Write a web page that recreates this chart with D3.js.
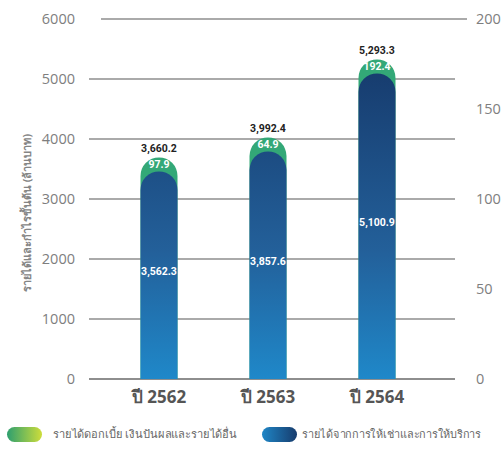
<!DOCTYPE html>
<html><head><meta charset="utf-8">
<script src="https://cdn.jsdelivr.net/npm/d3@7"></script>
<style>
body{margin:0;background:#fff;}
svg{display:block;}
.tick-l{font-family:"Open Sans","Noto Sans",sans-serif;font-weight:400;fill:#7e7e7e;font-size:14.5px;}
.lbl{font-family:"Liberation Sans Narrow","Roboto",sans-serif;font-weight:bold;}
</style>
</head><body>
<svg id="c" width="503" height="449"></svg>
<script>
const years = ["ปี 2562", "ปี 2563", "ปี 2564"];
const rentalService = [3562.3, 3857.6, 5100.9];
const interestOther = [97.9, 64.9, 192.4];
const totals = [3660.2, 3992.4, 5293.3];
const leftTicks = [0, 1000, 2000, 3000, 4000, 5000, 6000];
const rightTicks = [0, 50, 100, 150, 200];
const yTitle = "รายได้และกำไรขั้นต้น (ล้านบาท)";
const legendLabels = ["รายได้ดอกเบี้ย เงินปันผลและรายได้อื่น", "รายได้จากการให้เช่าและการให้บริการ"];

const svg = d3.select("#c");
const y = d3.scaleLinear().domain([0, 6000]).range([379, 19]);
const yR = d3.scaleLinear().domain([0, 200]).range([379, 19]);
const x = d3.scalePoint().domain(years).range([159, 377]);
const bw = 37, r = bw / 2, capH = 14;

const defs = svg.append("defs");
const gb = defs.append("linearGradient").attr("id", "gblue").attr("x1", 0).attr("x2", 0).attr("gradientUnits", "userSpaceOnUse")
  .attr("y1", 60).attr("y2", 379);
gb.append("stop").attr("offset", 0).attr("stop-color", "#163a6c");
gb.append("stop").attr("offset", 0.6).attr("stop-color", "#23609a");
gb.append("stop").attr("offset", 1).attr("stop-color", "#1f88c9");
const lg = defs.append("linearGradient").attr("id", "lgreen");
lg.append("stop").attr("offset", 0).attr("stop-color", "#2e9f6f");
lg.append("stop").attr("offset", 1).attr("stop-color", "#cddd3b");
const lb = defs.append("linearGradient").attr("id", "lblue");
lb.append("stop").attr("offset", 0).attr("stop-color", "#1f86c6");
lb.append("stop").attr("offset", 1).attr("stop-color", "#173c6d");

// gridlines
svg.append("g").selectAll("line").data(leftTicks).join("line")
  .attr("x1", d => d === 6000 ? 101 : 89)
  .attr("x2", d => d === 6000 ? 467 : 455)
  .attr("y1", d => y(d)).attr("y2", d => y(d))
  .attr("stroke", "#8e8e8e").attr("stroke-width", d => d === 0 ? 2 : 1.5);

// left ticks
svg.append("g").selectAll("text").data(leftTicks).join("text")
  .attr("class", "tick-l").attr("x", 75).attr("y", d => y(d)).attr("dy", "0.35em")
  .attr("text-anchor", "end").text(d => d);
// right ticks
svg.append("g").selectAll("text").data(rightTicks).join("text")
  .attr("class", "tick-l").attr("x", 476).attr("y", d => yR(d)).attr("dy", "0.35em")
  .attr("text-anchor", "start").text(d => d);

// y title
svg.append("text").attr("transform", "translate(31,213) rotate(-90)")
  .attr("text-anchor", "middle").attr("font-family", "'Noto Sans','Open Sans',sans-serif")
  .attr("font-weight", "bold").attr("font-size", 11).attr("fill", "#858585").text(yTitle);

function capsule(cx, top, bottom) {
  const x0 = cx - r, x1 = cx + r;
  return `M${x0},${bottom} L${x0},${top + r} A${r},${r} 0 0 1 ${x1},${top + r} L${x1},${bottom} Z`;
}

const bars = svg.append("g");
years.forEach((yr, i) => {
  const cx = x(yr);
  const tTop = y(totals[i]) - 2;
  bars.append("path").attr("d", capsule(cx, tTop, y(0))).attr("fill", "#33a877");
  const bTop = tTop + capH;
  bars.append("path").attr("d", capsule(cx, bTop, y(0))).attr("fill", "url(#gblue)");
  bars.append("text").attr("class", "lbl").attr("x", cx).attr("y", tTop - 5)
    .attr("text-anchor", "middle").attr("font-size", 10.5).attr("fill", "#222")
    .text(d3.format(",.1f")(totals[i]));
  bars.append("text").attr("class", "lbl").attr("x", cx).attr("y", tTop + 11)
    .attr("text-anchor", "middle").attr("font-size", 10.5).attr("fill", "#fff")
    .text(d3.format(",.1f")(interestOther[i]));
  bars.append("text").attr("class", "lbl").attr("x", cx).attr("y", (bTop + y(0)) / 2 - 4)
    .attr("dy", "0.35em").attr("text-anchor", "middle").attr("font-size", 10.5).attr("fill", "#fff")
    .text(d3.format(",.1f")(rentalService[i]));
});

// x labels
svg.append("g").selectAll("text").data(years).join("text")
  .attr("x", d => x(d)).attr("y", 403).attr("text-anchor", "middle")
  .attr("font-family", "'Noto Sans','Open Sans',sans-serif").attr("font-weight", "bold")
  .attr("font-size", 17).attr("fill", "#555").text(d => d);

// legend
const legend = [{fill: "url(#lgreen)", x: 7, tx: 53, t: legendLabels[0], w: 184}, {fill: "url(#lblue)", x: 262, tx: 302, t: legendLabels[1], w: 179}];
const lgG = svg.append("g");
legend.forEach(l => {
  lgG.append("rect").attr("x", l.x).attr("y", 427).attr("width", 35).attr("height", 15).attr("rx", 7.5).attr("fill", l.fill);
  lgG.append("text").attr("x", l.tx).attr("y", 434.5).attr("dy", "0.35em")
    .attr("font-family", "'Noto Sans','Open Sans',sans-serif").attr("font-size", 11.3).attr("fill", "#666")
    .attr("textLength", l.w).attr("lengthAdjust", "spacingAndGlyphs").text(l.t);
});
</script>
</body></html>
